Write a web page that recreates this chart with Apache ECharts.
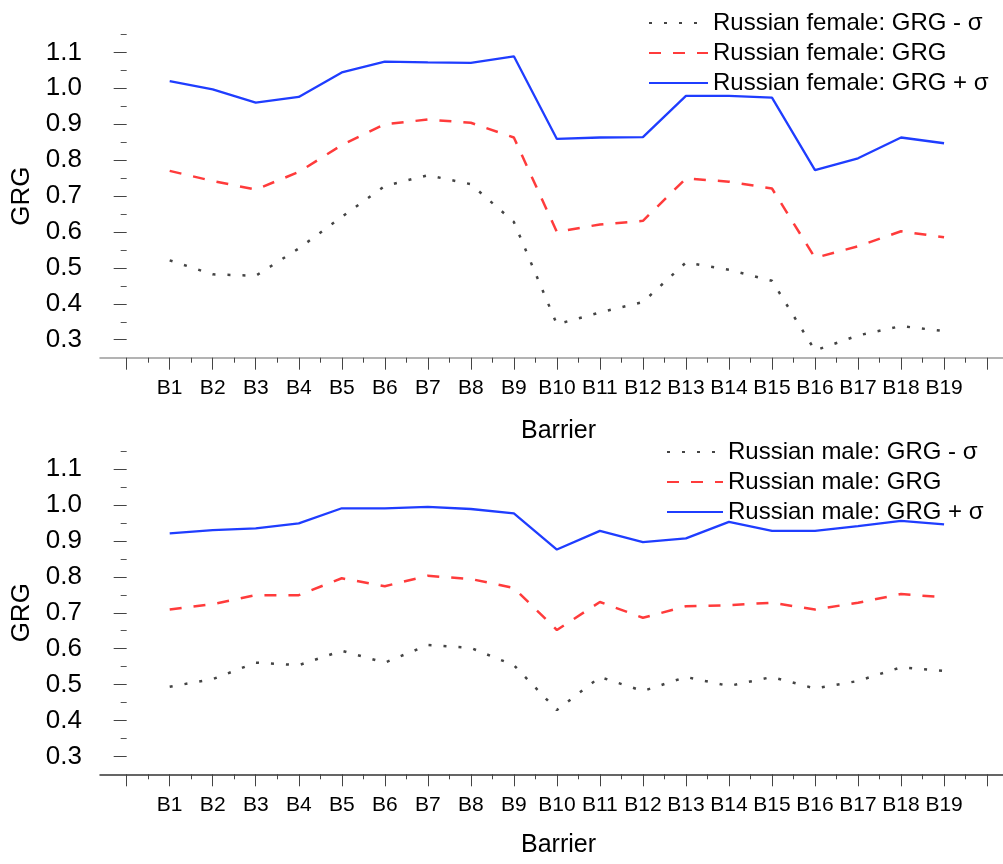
<!DOCTYPE html>
<html>
<head>
<meta charset="utf-8">
<title>GRG by barrier</title>
<script src="https://cdn.jsdelivr.net/npm/echarts@6/dist/echarts.min.js"></script>
<style>
  html, body { margin: 0; padding: 0; background: #fff; }
  #chart { width: 1003px; height: 864px; }
</style>
</head>
<body>
<div id="chart"></div>
<script>
// Barrier categories (x axis)
const categories = ['B1','B2','B3','B4','B5','B6','B7','B8','B9','B10',
  'B11','B12','B13','B14','B15','B16','B17','B18','B19'];

// Russian female GRG, mean and ± one standard deviation
const femaleMinus = [0.521,0.482,0.478,0.554,0.642,0.728,0.758,0.733,0.628,0.343,
  0.376,0.405,0.515,0.495,0.464,0.270,0.312,0.338,0.324];
const femaleMean  = [0.770,0.742,0.718,0.767,0.842,0.900,0.913,0.904,0.863,0.600,
  0.621,0.631,0.749,0.740,0.721,0.528,0.560,0.602,0.585];
const femalePlus  = [1.020,0.997,0.960,0.976,1.044,1.074,1.072,1.071,1.089,0.859,
  0.863,0.864,0.979,0.979,0.974,0.772,0.805,0.863,0.847];

// Russian male GRG, mean and ± one standard deviation
const maleMinus = [0.494,0.515,0.561,0.554,0.594,0.561,0.610,0.602,0.554,0.429,
  0.521,0.482,0.521,0.496,0.521,0.489,0.510,0.548,0.538];
const maleMean  = [0.709,0.724,0.749,0.749,0.796,0.774,0.803,0.794,0.769,0.652,
  0.730,0.686,0.718,0.721,0.728,0.709,0.728,0.752,0.743];
const malePlus  = [0.921,0.930,0.935,0.949,0.991,0.991,0.995,0.989,0.977,0.876,
  0.928,0.897,0.907,0.953,0.928,0.928,0.941,0.956,0.946];

// Axis tick values
const yLabelValues = [0.3,0.4,0.5,0.6,0.7,0.8,0.9,1.0,1.1];
const yMinorValues = [0.35,0.45,0.55,0.65,0.75,0.85,0.95,1.05,1.15];
const xMajorValues = Array.from({length: 21}, (_, i) => i);
const xMinorValues = Array.from({length: 21}, (_, i) => i + 0.5);
const xLabelValues = categories.map((_, i) => i + 1);

const FONT = "'Liberation Sans', Arial, sans-serif";
const Y_MIN = 0.25, Y_MAX = 1.15;
const X_MIN = -0.62, X_MAX = 20.37;

const toPoints = arr => arr.map((v, i) => [i + 1, v]);

function xAxesFor(gridIndex, lineColor, nameGap) {
  return [
    {
      gridIndex, type: 'value', min: X_MIN, max: X_MAX,
      name: 'Barrier', nameLocation: 'middle', nameGap,
      nameTextStyle: { fontFamily: FONT, fontSize: 25, color: '#000', padding: [0, 0, 0, 14] },
      axisLine: { show: true, lineStyle: { color: lineColor, width: 1.5 } },
      axisTick: { show: true, customValues: xMajorValues, length: 12, lineStyle: { color: '#444', width: 1 } },
      axisLabel: {
        customValues: xLabelValues, margin: 20,
        fontFamily: FONT, fontSize: 21, color: '#000',
        formatter: v => categories[Math.round(v) - 1] || ''
      },
      splitLine: { show: false }
    },
    {
      gridIndex, type: 'value', min: X_MIN, max: X_MAX, position: 'bottom',
      axisLine: { show: false },
      axisTick: { show: true, customValues: xMinorValues, length: 5, lineStyle: { color: '#444', width: 1 } },
      axisLabel: { show: false },
      splitLine: { show: false }
    }
  ];
}

function yAxesFor(gridIndex) {
  return [
    {
      gridIndex, type: 'value', min: Y_MIN, max: Y_MAX, offset: -6,
      name: 'GRG', nameLocation: 'middle', nameGap: 68,
      nameTextStyle: { fontFamily: FONT, fontSize: 26, color: '#000' },
      axisLine: { show: false },
      axisTick: { show: true, customValues: yLabelValues, length: 13, lineStyle: { color: '#444', width: 1 } },
      axisLabel: {
        customValues: yLabelValues, margin: 24,
        fontFamily: FONT, fontSize: 26, color: '#000',
        formatter: v => v.toFixed(1)
      },
      splitLine: { show: false }
    },
    {
      gridIndex, type: 'value', min: Y_MIN, max: Y_MAX, offset: -6, position: 'left',
      axisLine: { show: false },
      axisTick: { show: true, customValues: yMinorValues, length: 6, lineStyle: { color: '#555', width: 1 } },
      axisLabel: { show: false },
      splitLine: { show: false }
    }
  ];
}

const styles = {
  minus: { color: '#444444', width: 2.5, type: [3, 12], cap: 'butt' },
  mean:  { color: '#ff3b3b', width: 2.5, type: [12, 12], cap: 'butt' },
  plus:  { color: '#1f3dff', width: 2.3, type: 'solid' }
};

function lineSeries(name, data, style, gridNo) {
  return {
    name, type: 'line', data: toPoints(data),
    xAxisIndex: gridNo * 2, yAxisIndex: gridNo * 2,
    symbol: 'none', smooth: false, silent: true, animation: false,
    lineStyle: style, itemStyle: { color: style.color }
  };
}

const fNames = ['Russian female: GRG - σ', 'Russian female: GRG', 'Russian female: GRG + σ'];
const mNames = ['Russian male: GRG - σ', 'Russian male: GRG', 'Russian male: GRG + σ'];

// legend keys show the line pattern only
const legendBase = {
  orient: 'vertical', itemHeight: 14, itemGap: 6, selectedMode: false,
  itemStyle: { opacity: 0, borderWidth: 0 },
  textStyle: { fontFamily: FONT, fontSize: 24, lineHeight: 24, color: '#000' }
};

const option = {
  backgroundColor: '#fff',
  animation: false,
  grid: [
    { left: 100, top: 34.4, width: 903, height: 323.3 },
    { left: 100, top: 451.2, width: 903, height: 323.1 }
  ],
  legend: [
    Object.assign({}, legendBase, { data: fNames, left: 643, top: 6, itemWidth: 59 }),
    Object.assign({}, legendBase, { data: mNames, left: 661, top: 435, itemWidth: 56 })
  ],
  xAxis: [...xAxesFor(0, '#9a9a9a', 61), ...xAxesFor(1, '#333', 58)],
  yAxis: [...yAxesFor(0), ...yAxesFor(1)],
  series: [
    lineSeries(fNames[0], femaleMinus, styles.minus, 0),
    lineSeries(fNames[1], femaleMean, styles.mean, 0),
    lineSeries(fNames[2], femalePlus, styles.plus, 0),
    lineSeries(mNames[0], maleMinus, styles.minus, 1),
    lineSeries(mNames[1], maleMean, styles.mean, 1),
    lineSeries(mNames[2], malePlus, styles.plus, 1)
  ]
};

const chart = echarts.init(document.getElementById('chart'), null, { renderer: 'canvas' });
chart.setOption(option);
</script>
</body>
</html>
